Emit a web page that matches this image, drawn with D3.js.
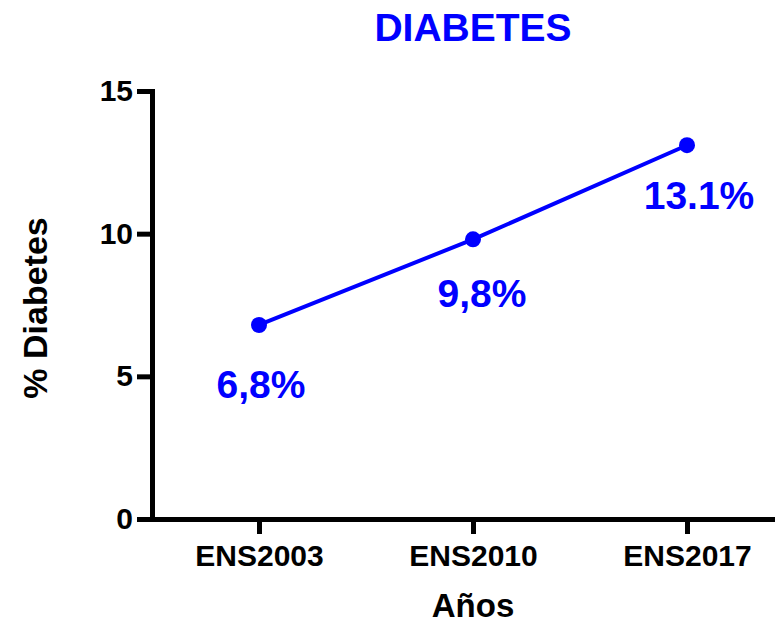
<!DOCTYPE html>
<html>
<head>
<meta charset="utf-8">
<script src="https://cdn.jsdelivr.net/npm/d3@7/dist/d3.min.js"></script>
<style>
  html, body { margin: 0; padding: 0; background: #fff; }
  svg { display: block; font-family: "Liberation Sans", Arial, Helvetica, sans-serif; font-weight: bold; }
</style>
</head>
<body>
<svg id="chart" width="775" height="626"></svg>
<script>
// Survey rounds and diabetes prevalence (%)
const categories = ["ENS2003", "ENS2010", "ENS2017"];
const values = [6.8, 9.8, 13.1];
const valueLabels = ["6,8%", "9,8%", "13.1%"];
const yTicks = [0, 5, 10, 15];

// Per-label nudges (px) relative to each point
const labelShift = [[2, 73], [9, 68], [12, 64]];

const W = 775, H = 626;
const blue = "#0000ff";
const svg = d3.select("#chart");

const x = d3.scalePoint().domain(categories).range([152, 794]).padding(0.5);
const y = d3.scaleLinear().domain([0, 15]).range([519, 91]);

// Title
svg.append("text")
  .attr("x", 473).attr("y", 41)
  .attr("text-anchor", "middle")
  .attr("fill", blue)
  .style("font-size", "39px")
  .text("DIABETES");

// Y axis
const yAxis = svg.append("g")
  .attr("transform", "translate(152,0)")
  .call(d3.axisLeft(y).tickValues(yTicks).tickSize(15).tickSizeOuter(0).tickPadding(4));
yAxis.select(".domain").attr("stroke", "#000").attr("stroke-width", 5).attr("stroke-linecap", "square");
yAxis.selectAll(".tick line").attr("stroke", "#000").attr("stroke-width", 5);
yAxis.selectAll(".tick text").attr("fill", "#000").style("font-size", "30px").style("font-family", "inherit");

// X axis
const xAxis = svg.append("g")
  .attr("transform", "translate(0,519)")
  .call(d3.axisBottom(x).tickSize(15).tickSizeOuter(0).tickPadding(11));
xAxis.select(".domain").attr("stroke", "#000").attr("stroke-width", 5);
xAxis.selectAll(".tick line").attr("stroke", "#000").attr("stroke-width", 5);
xAxis.selectAll(".tick text").attr("fill", "#000").style("font-size", "30px").style("font-family", "inherit");

// Axis titles
svg.append("text")
  .attr("transform", "translate(47,308) rotate(-90)")
  .attr("text-anchor", "middle")
  .attr("fill", "#000")
  .style("font-size", "34px")
  .text("% Diabetes");

svg.append("text")
  .attr("x", 473).attr("y", 617)
  .attr("text-anchor", "middle")
  .attr("fill", "#000")
  .style("font-size", "33px")
  .text("Años");

// Series line and markers
const pts = categories.map((c, i) => ({ c, v: values[i], label: valueLabels[i], shift: labelShift[i] }));

svg.append("path")
  .datum(pts)
  .attr("fill", "none")
  .attr("stroke", blue)
  .attr("stroke-width", 4)
  .attr("d", d3.line().x(d => x(d.c)).y(d => y(d.v)));

svg.selectAll("circle.pt")
  .data(pts)
  .join("circle")
  .attr("class", "pt")
  .attr("cx", d => x(d.c))
  .attr("cy", d => y(d.v))
  .attr("r", 8)
  .attr("fill", blue);

svg.selectAll("text.val")
  .data(pts)
  .join("text")
  .attr("class", "val")
  .attr("x", d => x(d.c) + d.shift[0])
  .attr("y", d => y(d.v) + d.shift[1])
  .attr("text-anchor", "middle")
  .attr("fill", blue)
  .style("font-size", "39px")
  .text(d => d.label);
</script>
</body>
</html>
